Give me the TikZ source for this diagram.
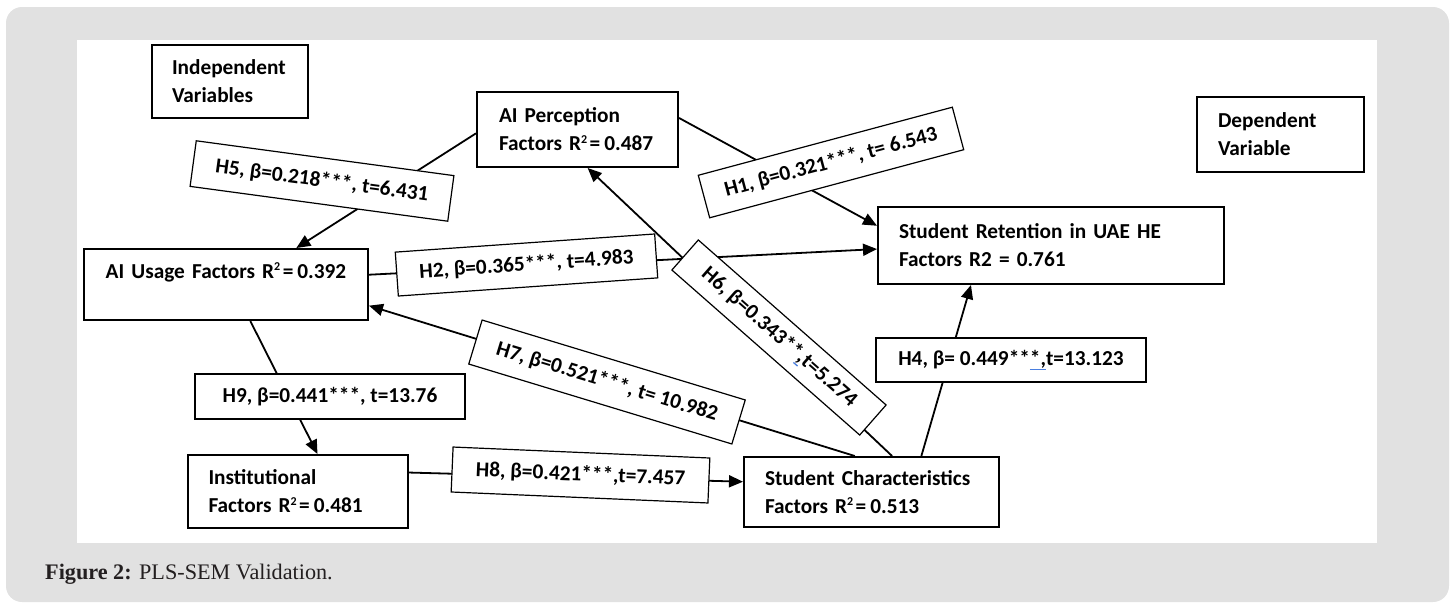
\documentclass[tikz,border=0pt]{standalone}
\usepackage{fontspec}
\setmainfont{Carlito}
\newfontfamily\capfont{Liberation Serif}
\usetikzlibrary{arrows.meta,calc}
\definecolor{bgc}{HTML}{E1E1E1}
\definecolor{capc}{HTML}{231F20}
\definecolor{sqc}{HTML}{4A7FE0}
\newcommand\boxfont{\fontsize{21.3}{28}\selectfont\bfseries}
\newcommand\sqline[1]{\setbox0\hbox{#1}\rlap{\textcolor{sqc}{\rule[-4.5pt]{\wd0}{1.3pt}}}\box0}
\newcommand\sqd{\raisebox{7.5pt}{\fontsize{12}{12}\selectfont 2}}
\newcommand\eqs{\kern2.5pt=\kern4pt}
\tikzset{
  box/.style={draw, line width=2pt, rectangle, inner ysep=0pt, font=\boxfont, align=left},
  lab/.style={draw, line width=1.2pt, fill=white, rectangle, inner xsep=0pt, inner ysep=0pt, font=\boxfont},
  conn/.style={line width=1.8pt},
  arr/.style={conn, -{Triangle[length=14pt,width=12pt]}},
}
\begin{document}
\begin{tikzpicture}[x=1pt,y=-1pt]
\useasboundingbox (0,0) rectangle (1452,605);
\fill[bgc, rounded corners=16pt] (6,7) rectangle (1449,602);
\fill[white] (77,40) rectangle (1377,543);

% boxes
\node[box, minimum width=156pt, minimum height=73pt, inner xsep=20pt, text width=116pt] (indep) at (230,81.5) {Independent\\Variables};
\node[box, minimum width=201pt, minimum height=75pt, inner xsep=22pt, text width=157pt] (persp) at (577.5,129.5) {AI~Perception\\Factors~R\sqd\eqs0.487};
\node[box, minimum width=167pt, minimum height=75pt, inner xsep=21pt, text width=125pt] (dep) at (1280.5,134.5) {Dependent\\Variable};
\node[box, minimum width=346pt, minimum height=77pt, inner xsep=21pt, text width=304pt] (ret) at (1051,245.5) {Student~Retention~in~UAE~HE\\Factors~R2~=~0.761};
\node[box, align=center, minimum width=284pt, minimum height=71pt, inner xsep=10pt, text width=264pt] (usage) at (226,284.5) {AI~Usage~Factors~R\sqd\eqs0.392\\\mbox{}};
\node[box, minimum width=220pt, minimum height=73pt, inner xsep=21pt, text width=178pt] (inst) at (297.5,491.5) {Institutional\\Factors~R\sqd\eqs0.481};
\node[box, minimum width=255pt, minimum height=70pt, inner xsep=21pt, text width=213pt] (sc) at (871.5,492) {Student~Characteristics\\Factors~R\sqd\eqs0.513};

% connector end points on the box borders
\coordinate (p5) at ($(persp.north west)!0.55!(persp.south west)$);
\coordinate (u5) at ($(usage.north west)!0.746!(usage.north east)$);
\coordinate (p1) at ($(persp.north east)!0.35!(persp.south east)$);
\coordinate (r1) at ($(ret.north west)!0.25!(ret.south west)$);
\coordinate (u2) at ($(usage.north east)!0.366!(usage.south east)$);
\coordinate (r2) at ($(ret.north west)!0.545!(ret.south west)$);
\coordinate (s6) at ($(sc.north west)!0.58!(sc.north east)$);
\coordinate (p6) at ($(persp.south west)!0.55!(persp.south east)$);
\coordinate (s7) at ($(sc.north west)!0.435!(sc.north east)$);
\coordinate (u7) at ($(usage.north east)!0.79!(usage.south east)$);
\coordinate (s4) at ($(sc.north west)!0.694!(sc.north east)$);
\coordinate (r4) at ($(ret.south west)!0.27!(ret.south east)$);
\coordinate (u9) at ($(usage.south west)!0.585!(usage.south east)$);
\coordinate (i9) at ($(inst.north west)!0.59!(inst.north east)$);
\coordinate (i8) at ($(inst.north east)!0.247!(inst.south east)$);
\coordinate (s8) at ($(sc.north west)!0.357!(sc.south west)$);

% connectors
\draw[arr] (p5) -- (u5);
\draw[arr] (p1) -- (r1);
\draw[arr] (u2) -- (r2);
\draw[arr] (s6) -- (p6);
\draw[arr] (s7) -- (u7);
\draw[arr] (s4) -- (r4);
\draw[arr] (u9) -- (i9);
\draw[arr] (i8) -- (s8);

% path labels
\node[lab, rotate=-7.7, minimum width=260pt, minimum height=46pt] (h5) at (322,181) {H5, β=0.218***, t=6.431};
\node[lab, rotate=15, minimum width=263pt, minimum height=44pt] (h1) at (831,162.5) {H1, β=0.321***, t= 6.543};
\node[lab, rotate=4, minimum width=260pt, minimum height=44pt] (h2) at (526.5,265) {H2, β=0.365***, t=4.983};
\node[lab, rotate=-41.3, minimum width=250pt, minimum height=40pt] (h6) at (779,337.5) {H6, β=0.343**\sqline{,}t=5.274};
\node[lab, rotate=-16.9, minimum width=275pt, minimum height=46pt] (h7) at (607,382) {H7, β=0.521***, t= 10.982};
\node[lab, minimum width=270pt, minimum height=44pt] (h4) at (1011,360) {H4, β= 0.449**\sqline{*,}t=13.123};
\node[lab, minimum width=270pt, minimum height=45pt] (h9) at (330,396.5) {H9, β=0.441***, t=13.76};
\node[lab, rotate=-2.45, minimum width=257pt, minimum height=45pt] (h8) at (580.5,475) {H8, β=0.421***,t=7.457};

% caption
\node[anchor=base west, inner sep=0pt, text=capc, font=\capfont\fontsize{22.2}{26}\selectfont] (cap) at (45,579) {\textbf{Figure 2:} PLS-SEM Validation.};
\end{tikzpicture}
\end{document}
